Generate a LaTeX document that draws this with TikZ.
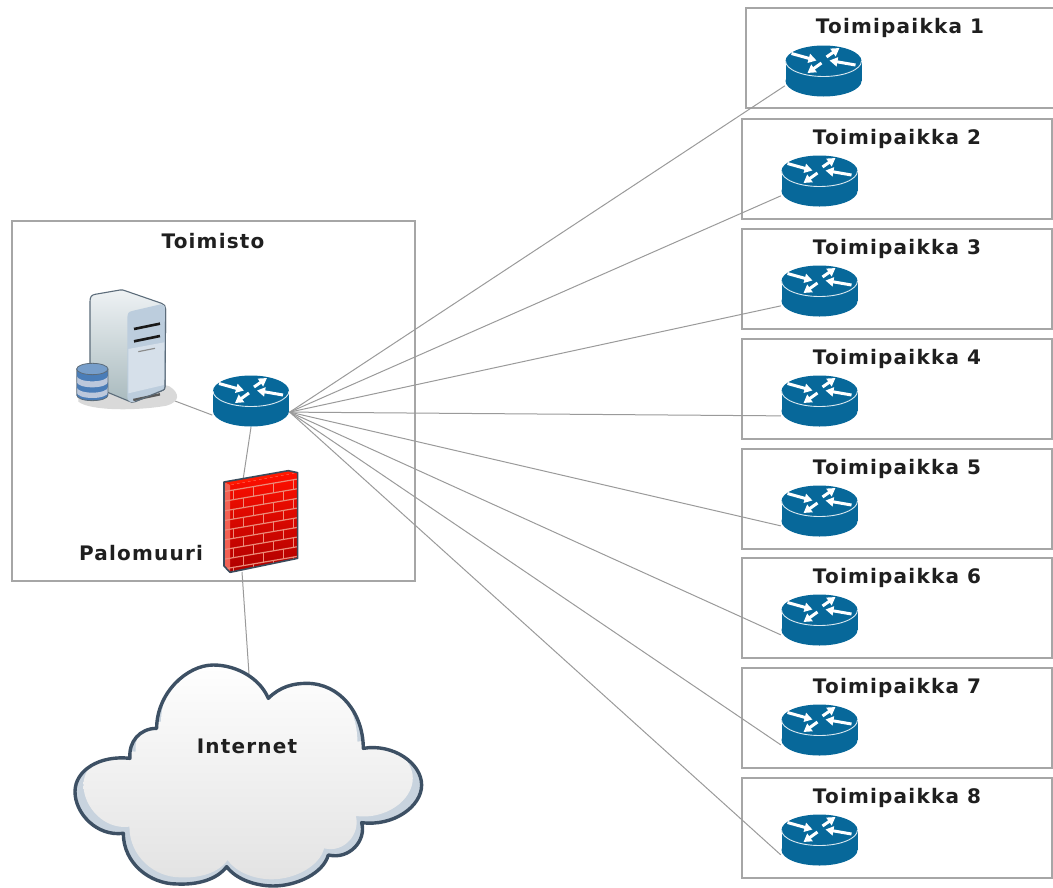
\documentclass[tikz,border=0pt]{standalone}
\usepackage{fontspec}
\setmainfont[LetterSpace=6]{DejaVu Sans}
\usetikzlibrary{arrows.meta}
\definecolor{routerblue}{HTML}{07689A}
\definecolor{linegray}{HTML}{9A9A9A}
\definecolor{boxgray}{HTML}{A6A6A6}
\definecolor{clouddark}{HTML}{3D5064}
\definecolor{cloudband}{HTML}{C8D3DE}
\definecolor{wallline}{HTML}{3A4B5C}
\definecolor{dbblue}{HTML}{4A7DB8}
\definecolor{dbpale}{HTML}{BCC8DC}
\definecolor{mortar}{HTML}{EC8A78}
\definecolor{srvtop}{HTML}{EEF2F4}
\definecolor{srvbot}{HTML}{A9BABE}
\definecolor{srvedge}{HTML}{5C6C7A}
\definecolor{srvfront}{HTML}{BCCDDD}
\definecolor{srvlow}{HTML}{D6E0EA}
\tikzset{
  x=1pt,y=-1pt,
  label/.style={font=\fontsize{20}{24}\selectfont\bfseries,text=black!88,inner sep=0pt},
  sitebox/.style={draw=boxgray,line width=1.2pt,minimum width=310pt,minimum height=100pt,inner sep=0pt},
  iconbox/.style={inner sep=0pt,minimum width=77pt,minimum height=52pt},
  link/.style={draw=linegray,line width=1pt},
  rarrow/.style={white,line width=3pt,-{Triangle[length=8pt,width=9pt]}},
  routericon/.pic={
    \fill[routerblue] (-38,-10) rectangle (38,10);
    \fill[routerblue] (0,10) ellipse[x radius=38,y radius=15.5];
    \fill[routerblue] (0,-10) ellipse[x radius=38,y radius=15.5];
    \draw[white!85!routerblue,line width=0.9pt] (-38,-10) .. controls (-38,-1.44) and (-21,5.5) .. (0,5.5) .. controls (21,5.5) and (38,-1.44) .. (38,-10);
    \draw[rarrow] (-32,-17.5) -- (-7,-10.5);
    \draw[rarrow] (3,-14) -- (16,-23);
    \draw[rarrow] (32,-6) -- (6,-10.5);
    \draw[rarrow] (-2,-8) -- (-16,2);
  }
}
\def\cloudshape{(210,325) .. controls (205,275) and (240,235) .. (290,235)
  .. controls (290,130) and (380,45) .. (460,45)
  .. controls (530,45) and (600,85) .. (625,145)
  .. controls (660,110) and (700,100) .. (740,100)
  .. controls (840,100) and (910,190) .. (910,295)
  .. controls (1000,280) and (1085,340) .. (1085,405)
  .. controls (1085,470) and (1000,530) .. (905,518)
  .. controls (920,570) and (870,630) .. (805,615)
  .. controls (790,670) and (710,708) .. (640,708)
  .. controls (590,708) and (530,690) .. (500,650)
  .. controls (470,690) and (410,705) .. (350,702)
  .. controls (270,702) and (190,640) .. (190,550)
  .. controls (110,560) and (45,490) .. (45,425)
  .. controls (45,360) and (120,315) .. (210,325) -- cycle}
\begin{document}
\begin{tikzpicture}
\useasboundingbox (0,0) rectangle (1053,887);
% office box and its icon anchors
\node[draw=boxgray,line width=1.2pt,minimum width=403pt,minimum height=360pt,inner sep=0pt] (office) at (213.5,401) {};
\node[iconbox] (hub) at (251,401) {};
\node[inner sep=0pt,minimum width=99pt,minimum height=117pt] (server) at (127.5,349.5) {};
\node[inner sep=0pt,minimum width=76pt,minimum height=105pt] (wall) at (261,522) {};
\node[inner sep=0pt,minimum width=346pt,minimum height=212pt] (cloud) at (248,779) {};
\coordinate (serverport) at (175,401);
\coordinate (walltop) at (243,480);
\coordinate (wallbottom) at (242,572);
\coordinate (cloudtop) at (249,674);
% site 1 (open on the right, cut by the page edge)
\draw[boxgray,line width=1.2pt] (1053,8) -- (746,8) -- (746,108) -- (1053,108);
\node[iconbox] (r1) at (823.5,71) {};
\node[label] (t1) at (900,28) {Toimipaikka 1};
% sites 2 to 8
\foreach \n/\top in {2/119,3/229,4/339,5/449,6/558,7/668,8/778}{
  \node[sitebox] (b\n) at (897,\top+50) {};
  \node[iconbox] (r\n) at (819.5,\top+62) {};
  \node[label] (t\n) at (897,\top+20) {Toimipaikka \n};
}
% connectors
\foreach \n in {1,...,8}{ \draw[link] (hub.-16) -- (r\n.201); }
\draw[link] (serverport) -- (hub.200);
\draw[link] (hub.south) -- (walltop);
\draw[link] (wallbottom) -- (cloudtop);
% routers
\foreach \n in {1,...,8}{ \pic at (r\n.center) {routericon}; }
\pic at (hub.center) {routericon};
% server
\begin{scope}[shift={(70,285)},x=0.3333pt,y=-0.3333pt]
  \fill[black!15] (25,335) .. controls (80,300) and (280,290) .. (300,305)
     .. controls (330,325) and (330,350) .. (290,362)
     .. controls (200,378) and (60,378) .. (25,350) -- cycle;
  \path[top color=srvtop,bottom color=srvbot,draw=srvedge,line width=1.1pt]
     (60,50) .. controls (60,35) and (65,30) .. (75,28) -- (150,15) .. controls (155,14) and (160,15) .. (165,17)
     -- (275,55) .. controls (283,58) and (287,63) .. (287,72) -- (285,305) .. controls (285,312) and (283,314) .. (278,316)
     -- (195,350) .. controls (188,353) and (183,352) .. (178,349) -- (60,300) -- cycle;
  \path[fill=srvfront]
     (172,100) .. controls (172,85) and (176,80) .. (186,78) -- (272,58) .. controls (280,57) and (285,62) .. (285,72)
     -- (285,305) .. controls (285,312) and (283,314) .. (278,316) -- (195,350) .. controls (180,354) and (172,348) .. (172,335) -- cycle;
  \fill[srvlow] (175,192) -- (283,172) -- (282,300) -- (175,325) -- cycle;
  \draw[black!90,line width=2.6pt] (192,132) -- (270,116);
  \draw[black!90,line width=2.6pt] (192,169) -- (270,153);
  \draw[black!45,line width=1.2pt] (205,200) -- (255,190);
  \draw[black!65,line width=2.4pt] (190,345) -- (270,328);
  \draw[srvedge,line width=1.1pt] (287,72) -- (285,305) .. controls (285,312) and (283,314) .. (278,316) -- (195,350);
  % database
  \fill[dbblue] (20,252) rectangle (114,330);
  \fill[dbblue] (67,330) ellipse[x radius=47,y radius=17];
  \fill[dbpale] (20,272) .. controls (20,282) and (41,289) .. (67,289) .. controls (93,289) and (114,282) .. (114,272)
    -- (114,290) .. controls (114,300) and (93,307) .. (67,307) .. controls (41,307) and (20,300) .. (20,290) -- cycle;
  \fill[dbpale] (20,306) .. controls (20,316) and (41,323) .. (67,323) .. controls (93,323) and (114,316) .. (114,306)
    -- (114,322) .. controls (114,332) and (93,339) .. (67,339) .. controls (41,339) and (20,332) .. (20,322) -- cycle;
  \draw[srvedge,line width=0.8pt] (20,252) -- (20,330) .. controls (20,340) and (41,347) .. (67,347) .. controls (93,347) and (114,340) .. (114,330) -- (114,252);
  \fill[dbblue!75!white,draw=srvedge,line width=0.8pt] (67,252) ellipse[x radius=47,y radius=17];
\end{scope}
% firewall
\begin{scope}[shift={(215,460)},x=0.3333pt,y=-0.3333pt]
  \path[top color=red!88!orange,bottom color=red!68!black] (45,75) -- (248,38) -- (248,295) -- (45,337) -- cycle;
  \fill[mortar!70!red] (27,66) -- (45,75) -- (45,337) -- (27,318) -- cycle;
  \fill[red!80!orange] (27,66) -- (220,32) -- (248,38) -- (45,75) -- cycle;
  \begin{scope}
    \clip (27,66) -- (45,75) -- (248,38) -- (248,295) -- (45,337) -- (27,318) -- cycle;
    \foreach \i in {0,1,...,9}{
      \draw[mortar,line width=1.2pt] (20,{96+\i*29}) -- (260,{96+\i*29-41});
      \pgfmathsetmacro{\off}{mod(\i,2)==0 ? 0 : 30}
      \foreach \j in {0,1,2,3}{
        \pgfmathsetmacro{\xx}{55+\off+\j*60}
        \draw[mortar,line width=1.2pt] (\xx,{96+\i*29-(\xx-20)*0.171}) -- (\xx,{96+(\i+1)*29-(\xx-20)*0.171});
      }
    }
  \end{scope}
  \draw[wallline,line width=1.6pt,line join=round] (27,66) -- (220,32) -- (248,38) -- (248,295) -- (45,337) -- (27,318) -- cycle;
\end{scope}
% cloud
\begin{scope}[shift={(60,650)},x=0.3333pt,y=-0.3333pt]
  \fill[cloudband] \cloudshape;
  \begin{scope}
    \clip \cloudshape;
    \begin{scope}[shift={(555,-20)},xscale=0.95,shift={(-555,0)}]
      \path[top color=white,bottom color=black!11] \cloudshape;
    \end{scope}
  \end{scope}
  \draw[clouddark,line width=3.4pt,line join=round] \cloudshape;
\end{scope}
% labels
\node[label] (lOffice) at (213,241) {Toimisto};
\node[label] (lWall) at (141,553) {Palomuuri};
\node[label] (lCloud) at (247,746) {Internet};
\end{tikzpicture}
\end{document}
